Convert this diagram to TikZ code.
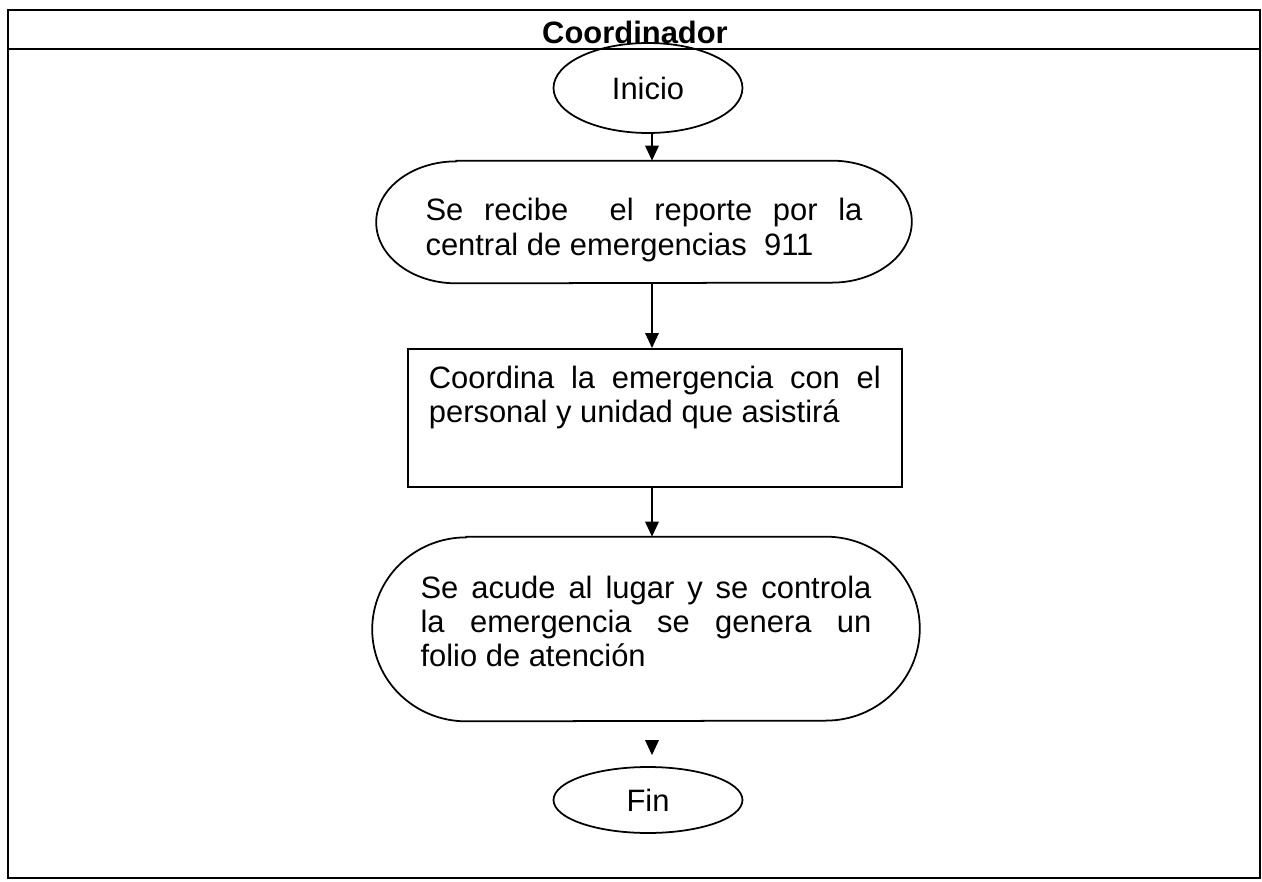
\documentclass[tikz,border=0pt]{standalone}
\usepackage{fontspec}
\setmainfont{Liberation Sans}
\usetikzlibrary{arrows.meta,shapes.geometric}

\begin{document}
\begin{tikzpicture}[x=0.02cm, y=-0.02cm,
    linea/.style={line width=1pt},
    flecha/.style={line width=1pt, -{Triangle[width=0.27cm,length=0.3cm]}},
    texto/.style={font=\fontsize{17.6}{19.4}\selectfont},
    terminal/.style={texto, draw, line width=1pt, ellipse, minimum width=3.78cm, inner sep=0pt},
    capsula/.style={texto, align=justify, inner sep=0pt}]
  \useasboundingbox (0,0) rectangle (1262,882);
  % marco y encabezado
  \draw[linea] (8,10) rectangle (1260,878);
  \draw[linea] (8,49) -- (1260,49);
  \node[texto] (titulo) at (635,32) {\bfseries Coordinador};
  \coordinate (eje) at (652,0);

  % nodos
  \node[terminal, minimum height=1.8cm] (inicio) at (648,88) {Inicio};
  \node[capsula, text width=8.74cm, minimum width=10.7cm, minimum height=2.44cm] (recibe) at (644,222)
    {\rule{0pt}{0.77cm}Se recibe\ \ el reporte por la\linebreak central de emergencias\ \ 911};
  \draw[linea] ([xshift=1.6cm]recibe.north west) -- ([xshift=-1.6cm]recibe.north east)
    arc[start angle=90, end angle=-90, x radius=1.6cm, y radius=1.22cm]
    -- ([xshift=1.6cm]recibe.south west)
    arc[start angle=270, end angle=90, x radius=1.6cm, y radius=1.22cm] -- cycle;
  \node[draw, linea, texto, align=justify, text width=9.04cm, inner xsep=0.42cm, inner ysep=0.35cm, anchor=north west] (coordina) at (407,348)
    {Coordina la emergencia con el\linebreak personal y unidad que asistirá\rule[-0.93cm]{0pt}{0pt}};
  \node[capsula, text width=9.02cm, minimum width=10.94cm, minimum height=3.68cm] (acude) at (646,629)
    {Se acude al lugar y se controla\linebreak la emergencia se genera un\linebreak folio de atención\rule[-0.32cm]{0pt}{0pt}};
  \draw[linea] ([xshift=1.88cm]acude.north west) -- ([xshift=-1.88cm]acude.north east)
    arc[start angle=90, end angle=-90, x radius=1.88cm, y radius=1.84cm]
    -- ([xshift=1.88cm]acude.south west)
    arc[start angle=270, end angle=90, x radius=1.88cm, y radius=1.84cm] -- cycle;
  \node[terminal, minimum height=1.32cm] (fin) at (648,800) {Fin};
  \coordinate (punta) at (652,740);

  % conectores
  \draw[flecha] (inicio.south -| eje) -- (recibe.north -| eje);
  \draw[flecha] (recibe.south -| eje) -- (coordina.north -| eje);
  \draw[flecha] (coordina.south -| eje) -- (acude.north -| eje);
  \draw[flecha, shorten >=0.22cm] (punta) -- (fin.north -| eje);
\end{tikzpicture}
\end{document}
